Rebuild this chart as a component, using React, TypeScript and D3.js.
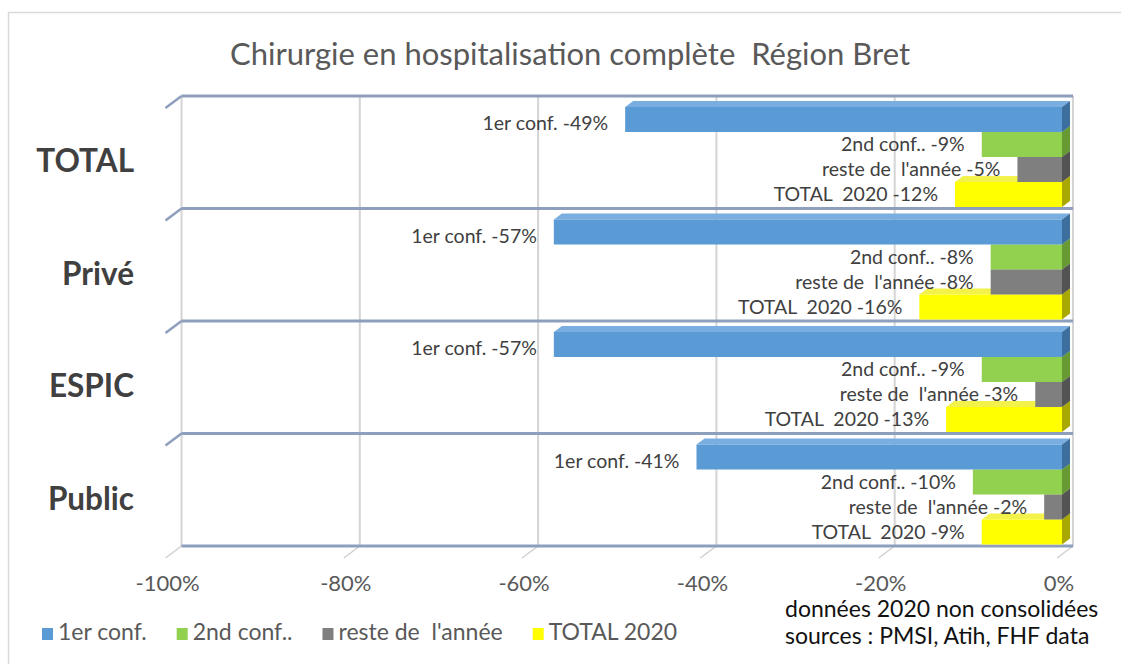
import { useEffect, useRef } from "react";
import * as d3 from "d3";

const categories = ["TOTAL", "Privé", "ESPIC", "Public"];
const seriesNames = ["1er conf.", "2nd conf..", "reste de  l'année", "TOTAL 2020"];
const barLabelNames = ["1er conf.", "2nd conf..", "reste de  l'année", "TOTAL  2020"];
const firstConf = [-49, -57, -57, -41];
const secondConf = [-9, -8, -9, -10];
const resteAnnee = [-5, -8, -3, -2];
const total2020 = [-12, -16, -13, -9];
const xTicks = [-100, -80, -60, -40, -20, 0];
const title = "Chirurgie en hospitalisation complète  Région Bret";
const footnotes = ["données 2020 non consolidées", "sources : PMSI, Atih, FHF data"];

const seriesColors = ["#5b9bd5", "#92d050", "#7f7f7f", "#ffff00"];
const sideColors = ["#3d6f9e", "#679a33", "#535353", "#a8a800"];
const topColors = ["#7aaee0", "#a6dc6c", "#969696", "#f2f24a"];

const FONT = "Lato, 'Open Sans', sans-serif";

const App = () => {
    const container = useRef<SVGSVGElement>(null);

    useEffect(() => {
        const svg = d3.select(container.current);
        svg.selectAll("*").remove();

        const values = [firstConf, secondConf, resteAnnee, total2020];

        // outer frame
        svg.append("rect")
            .attr("x", 8.5).attr("y", 12.5)
            .attr("width", 1200).attr("height", 700)
            .attr("fill", "#fff")
            .attr("stroke", "#d9d9d9").attr("stroke-width", 1.5);

        svg.append("text")
            .attr("x", 570).attr("y", 57)
            .attr("text-anchor", "middle")
            .attr("dominant-baseline", "middle")
            .style("white-space", "pre")
            .style("font-family", FONT).style("font-size", "31px")
            .style("fill", "#595959")
            .text(title);

        // front plane of the bars and back wall
        const x = d3.scaleLinear().domain([-100, 0]).range([170.5, 1062]);
        const wallDx = 11;
        const xb = (v: number) => x(v) + wallDx;
        const y = d3.scaleBand().domain(categories).range([96, 546]).padding(0);
        const inner = d3.scaleBand().domain(seriesNames).range([11, 111]).padding(0);
        const depth = { dx: 8, dy: -6 };

        // vertical gridlines on the back wall
        svg.append("g").selectAll("line")
            .data(xTicks)
            .join("line")
            .attr("x1", (d) => xb(d)).attr("x2", (d) => xb(d))
            .attr("y1", 96).attr("y2", 546)
            .attr("stroke", "#d4d4d4").attr("stroke-width", 2);

        // small floor ticks
        svg.append("g").selectAll("line")
            .data(xTicks)
            .join("line")
            .attr("x1", (d) => xb(d)).attr("x2", (d) => xb(d) - 16)
            .attr("y1", 546).attr("y2", 558)
            .attr("stroke", "#cfcfcf").attr("stroke-width", 1.5);

        // category separators
        const sepY = categories.map((c) => y(c) as number).concat([546]);
        const sep = svg.append("g");
        sep.selectAll("line.h")
            .data(sepY)
            .join("line")
            .attr("class", "h")
            .attr("x1", xb(-100)).attr("x2", xb(0))
            .attr("y1", (d) => d).attr("y2", (d) => d)
            .attr("stroke", "#8e9fbd").attr("stroke-width", 3);
        sep.selectAll("line.d")
            .data(sepY.slice(0, 4))
            .join("line")
            .attr("class", "d")
            .attr("x1", xb(-100)).attr("x2", xb(-100) - 16)
            .attr("y1", (d) => d).attr("y2", (d) => d + 12)
            .attr("stroke", "#8e9fbd").attr("stroke-width", 2.5);

        // category labels
        svg.append("g").selectAll("text")
            .data(categories)
            .join("text")
            .attr("x", 134)
            .attr("y", (d) => (y(d) as number) + y.bandwidth() / 2 + 12)
            .attr("text-anchor", "end")
            .attr("dominant-baseline", "middle")
            .style("font-family", FONT).style("font-size", "31.5px").style("font-weight", "bold")
            .style("fill", "#404040")
            .text((d) => d);

        // bars, drawn from the lowest to the highest so upper faces sit in front
        const bars = svg.append("g");
        const labels = svg.append("g");
        categories.forEach((cat, ci) => {
            for (let si = seriesNames.length - 1; si >= 0; si--) {
                const v = values[si][ci];
                const x0 = x(v), x1 = x(0);
                const yt = (y(cat) as number) + (inner(seriesNames[si]) as number);
                const yb = yt + inner.bandwidth();
                const g = bars.append("g");
                g.append("polygon")
                    .attr("points", [[x0, yt], [x1, yt], [x1 + depth.dx, yt + depth.dy], [x0 + depth.dx, yt + depth.dy]].join(" "))
                    .attr("fill", topColors[si]);
                g.append("polygon")
                    .attr("points", [[x1, yt], [x1 + depth.dx, yt + depth.dy], [x1 + depth.dx, yb + depth.dy], [x1, yb]].join(" "))
                    .attr("fill", sideColors[si]);
                g.append("rect")
                    .attr("x", x0).attr("y", yt)
                    .attr("width", x1 - x0).attr("height", yb - yt)
                    .attr("fill", seriesColors[si]);

                labels.append("text")
                    .attr("x", x0 - 17)
                    .attr("y", (yt + yb) / 2 + (si === 0 ? 6 : 2))
                    .attr("text-anchor", "end")
                    .attr("dominant-baseline", "middle")
                    .style("white-space", "pre")
                    .style("font-family", FONT).style("font-size", "19.5px")
                    .style("fill", "#404040")
                    .text(`${barLabelNames[si]} ${v}%`);
            }
        });

        // x axis labels
        svg.append("g").selectAll("text")
            .data(xTicks)
            .join("text")
            .attr("x", (d) => x(d) - 3)
            .attr("y", 585)
            .attr("text-anchor", "middle")
            .attr("dominant-baseline", "middle")
            .style("font-family", FONT).style("font-size", "22px")
            .style("fill", "#595959")
            .text((d) => `${d}%`);

        // legend
        const legend = svg.append("g");
        let lx = 42;
        seriesNames.forEach((name, i) => {
            legend.append("rect")
                .attr("x", lx).attr("y", 628)
                .attr("width", 11).attr("height", 12)
                .attr("fill", seriesColors[i]);
            const t = legend.append("text")
                .attr("x", lx + 16).attr("y", 634)
                .attr("dominant-baseline", "middle")
                .style("white-space", "pre")
                .style("font-family", FONT).style("font-size", "23px")
                .style("fill", "#595959")
                .text(name);
            const w = (t.node() as SVGTextElement).getComputedTextLength();
            lx += 16 + w + 30;
        });

        svg.append("g").selectAll("text")
            .data(footnotes)
            .join("text")
            .attr("x", 785)
            .attr("y", (d, i) => 611 + i * 27)
            .attr("dominant-baseline", "middle")
            .style("font-family", FONT).style("font-size", "23px")
            .style("fill", "#111")
            .text((d) => d);
    }, []);

    return (
        <svg ref={container} width={1121} height={664}
            style={{ position: "absolute", left: 0, top: 0, background: "#fff" }} />
    );
};

export default App;
